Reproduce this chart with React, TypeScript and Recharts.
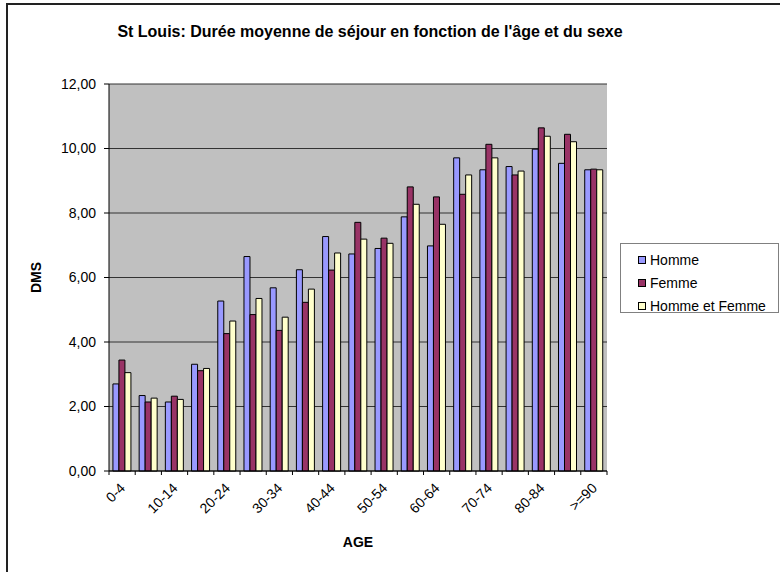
import { BarChart, Bar, XAxis, YAxis, CartesianGrid, Legend } from 'recharts'

const ageGroups = [
  '0-4', '5-9', '10-14', '15-19', '20-24', '25-29', '30-34', '35-39', '40-44', '45-49',
  '50-54', '55-59', '60-64', '65-69', '70-74', '75-79', '80-84', '85-89', '>=90',
]
const homme = [2.7, 2.34, 2.14, 3.31, 5.27, 6.65, 5.68, 6.24, 7.27, 6.73, 6.9, 7.88, 6.98, 9.71, 9.34, 9.44, 9.98, 9.54, 9.34]
const femme = [3.44, 2.14, 2.32, 3.11, 4.26, 4.85, 4.36, 5.23, 6.23, 7.71, 7.22, 8.81, 8.5, 8.58, 10.13, 9.18, 10.64, 10.44, 9.36]
const hommeEtFemme = [3.05, 2.26, 2.22, 3.18, 4.65, 5.35, 4.77, 5.64, 6.76, 7.19, 7.06, 8.27, 7.65, 9.18, 9.71, 9.3, 10.38, 10.21, 9.34]
const seriesNames = ['Homme', 'Femme', 'Homme et Femme']
const yTicks = [0, 2, 4, 6, 8, 10, 12]

const data = ageGroups.map((age, i) => ({
  age,
  homme: homme[i],
  femme: femme[i],
  ensemble: hommeEtFemme[i],
}))

const font = '"Liberation Sans", Arial, sans-serif'

// chart geometry
const W = 780
const H = 572
const margin = { top: 84, right: 173, bottom: 21, left: 49 }
const yAxisW = 60
const band = (W - margin.left - margin.right - yAxisW) / ageGroups.length

function AgeTick(props: any) {
  const { x, y, payload } = props
  return (
    <g>
      <line x1={x - band / 2} y1={y} x2={x - band / 2} y2={y + 4} stroke="#000" />
      <line x1={x + band / 2} y1={y} x2={x + band / 2} y2={y + 4} stroke="#000" />
      <text
        x={x + 4}
        y={y + 18}
        transform={`rotate(-45, ${x + 4}, ${y + 18})`}
        textAnchor="end"
        fontFamily={font}
        fontSize={14}
        fill="#000"
      >
        {payload.value}
      </text>
    </g>
  )
}

function LegendBox(props: any) {
  const items = [...(props.payload || [])].sort(
    (a: any, b: any) => seriesNames.indexOf(a.value) - seriesNames.indexOf(b.value)
  )
  return (
    <div
      style={{
        width: 159,
        height: 70,
        boxSizing: 'border-box',
        border: '1px solid #808080',
        background: '#fff',
        padding: '4px 0 0 17px',
        fontFamily: font,
        fontSize: 14,
        color: '#000',
      }}
    >
      {items.map((it: any) => (
        <div key={it.value} style={{ display: 'flex', alignItems: 'center', height: 23 }}>
          <span
            style={{
              display: 'inline-block',
              width: 6,
              height: 6,
              border: '1px solid #000',
              background: it.color,
              marginRight: 4,
            }}
          />
          {it.value}
        </div>
      ))}
    </div>
  )
}

export default function App() {
  return (
    <div style={{ position: 'absolute', left: 0, top: 0, width: W, height: H, overflow: 'hidden', background: '#fff' }}>
      <div
        style={{
          position: 'absolute',
          left: 6,
          top: 3,
          width: 800,
          height: 600,
          border: '2px solid #222',
        }}
      />
      <div
        style={{
          position: 'absolute',
          left: 0,
          top: 23,
          width: 740,
          textAlign: 'center',
          fontFamily: font,
          fontWeight: 'bold',
          fontSize: 16,
        }}
      >
        St Louis: Durée moyenne de séjour en fonction de l'âge et du sexe
      </div>
      <div style={{ position: 'absolute', left: 0, top: 0 }}>
        <BarChart
          width={W}
          height={H}
          data={data}
          margin={margin}
          barCategoryGap="15%"
          barGap={0}
        >
          <CartesianGrid vertical={false} stroke="#333" fill="#c0c0c0" />
          <XAxis
            dataKey="age"
            height={80}
            interval={1}
            tickLine={false}
            stroke="#000"
            tick={<AgeTick />}
            tickMargin={0}
            tickSize={0}
            label={{ value: 'AGE', position: 'insideBottom', offset: 4, fill: '#000', fontFamily: font, fontSize: 14, fontWeight: 'bold' }}
          />
          <YAxis
            width={yAxisW}
            domain={[0, 12]}
            ticks={yTicks}
            tickSize={5}
            tickMargin={8}
            stroke="#000"
            tick={{ fill: '#000', fontFamily: font, fontSize: 14 }}
            tickFormatter={(v: number) => v.toFixed(2).replace('.', ',')}
            label={{ value: 'DMS', angle: -90, position: 'insideLeft', offset: -13, fill: '#000', fontFamily: font, fontSize: 14, fontWeight: 'bold', style: { textAnchor: 'middle' } }}
          />
          <YAxis yAxisId="border" orientation="right" width={0} tick={false} tickLine={false} stroke="#808080" />
          <Legend
            layout="vertical"
            align="center"
            verticalAlign="middle"
            content={<LegendBox />}
            wrapperStyle={{ left: 620, top: 243, width: 159 }}
          />
          <Bar dataKey="homme" name="Homme" fill="#9999ff" stroke="#000" strokeWidth={1} isAnimationActive={false} />
          <Bar dataKey="femme" name="Femme" fill="#993366" stroke="#000" strokeWidth={1} isAnimationActive={false} />
          <Bar dataKey="ensemble" name="Homme et Femme" fill="#ffffcc" stroke="#000" strokeWidth={1} isAnimationActive={false} />
        </BarChart>
      </div>
    </div>
  )
}
